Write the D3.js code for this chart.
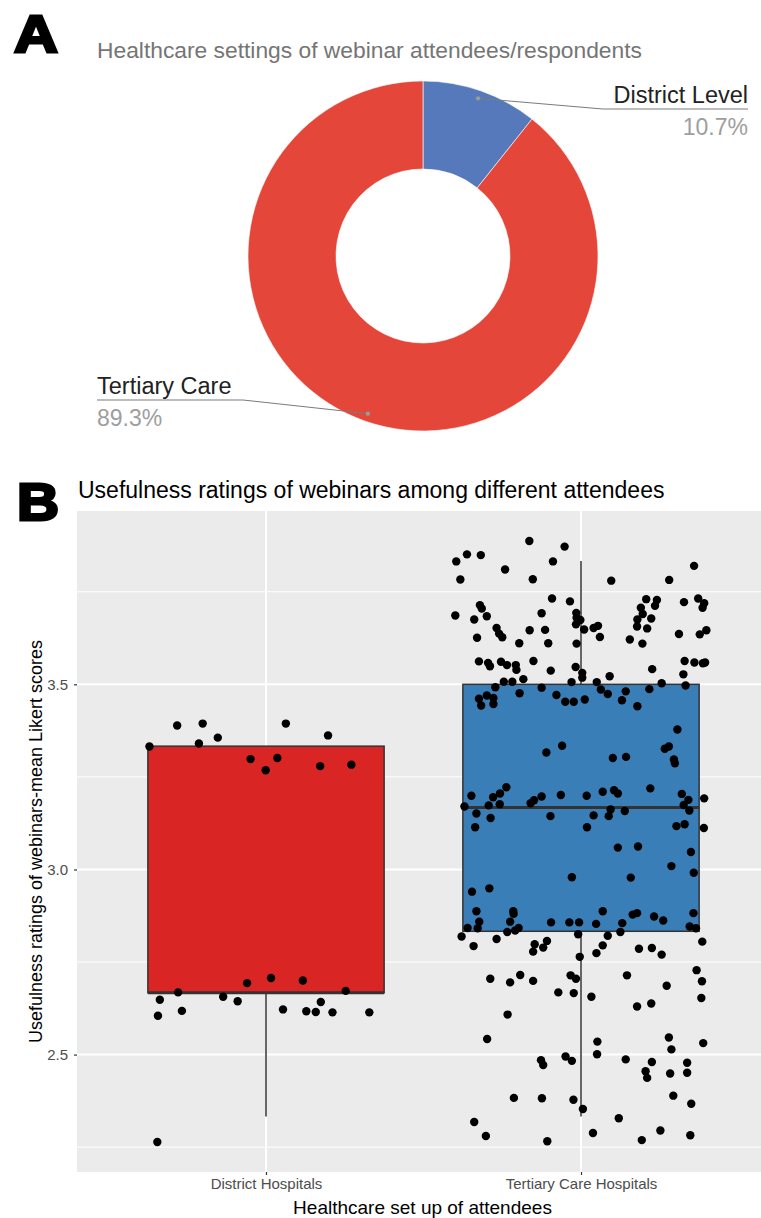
<!DOCTYPE html>
<html>
<head>
<meta charset="utf-8">
<script src="https://cdn.jsdelivr.net/npm/d3@7"></script>
<style>
  body { margin: 0; background: #fff; }
  svg { display: block; }
</style>
</head>
<body>
<script>
// ---- panel A data
var settings = ["District Level", "Tertiary Care"];
var settingShare = [10.7, 89.3];

// ---- panel B data
var groups = ["District Hospitals", "Tertiary Care Hospitals"];
var whiskerLow = [2.333, 2.333];
var q1 = [2.667, 2.833];
var median = [2.667, 3.167];
var q3 = [3.333, 3.5];
var whiskerHigh = [3.333, 3.833];
var yTicks = [2.5, 3.0, 3.5];
var yMinor = [2.25, 2.75, 3.25, 3.75];

// jittered respondents: [horizontal jitter (band units), mean Likert score]
var districtPts = [
  [-0.370,3.332],[-0.282,3.389],[-0.201,3.394],[-0.213,3.340],[-0.153,3.356],[-0.049,3.298],
  [-0.001,3.268],[0.036,3.301],[0.063,3.394],[0.197,3.362],[0.172,3.279],[0.271,3.283],
  [-0.337,2.648],[-0.343,2.605],[-0.279,2.668],[-0.267,2.618],[-0.136,2.656],[-0.090,2.644],
  [-0.060,2.693],[0.016,2.707],[0.054,2.622],[0.117,2.700],[0.128,2.617],[0.158,2.615],
  [0.174,2.642],[0.211,2.614],[0.253,2.672],[0.328,2.614],[-0.345,2.264]
];
var tertiaryPts = [
  [-0.164,3.887],[-0.052,3.872],[-0.362,3.851],[-0.318,3.849],[-0.396,3.832],[-0.089,3.832],
  [-0.241,3.810],[0.359,3.820],[-0.383,3.783],[-0.153,3.784],[0.096,3.780],[0.280,3.782],
  [-0.092,3.732],[-0.035,3.724],[0.207,3.730],[0.241,3.728],[0.327,3.722],[0.372,3.732],
  [-0.321,3.714],[-0.315,3.705],[0.190,3.707],[0.235,3.712],[0.391,3.719],[0.386,3.707],
  [-0.399,3.686],[-0.299,3.684],[-0.339,3.675],[-0.125,3.692],[-0.015,3.693],[-0.014,3.680],
  [-0.002,3.674],[0.196,3.690],[0.179,3.675],[0.223,3.678],[-0.016,3.662],[-0.268,3.652],
  [-0.260,3.637],[-0.250,3.627],[-0.163,3.646],[-0.114,3.647],[0.010,3.648],[0.040,3.652],
  [0.054,3.658],[0.060,3.628],[0.178,3.656],[0.210,3.651],[0.398,3.646],[0.377,3.635],
  [0.311,3.636],[-0.330,3.626],[-0.196,3.611],[-0.104,3.611],[-0.014,3.610],[0.155,3.621],
  [0.195,3.610],[-0.324,3.562],[-0.295,3.558],[-0.289,3.549],[-0.254,3.561],[-0.235,3.552],
  [-0.207,3.552],[-0.205,3.539],[-0.151,3.563],[-0.096,3.537],[-0.017,3.547],[0.004,3.531],
  [0.004,3.518],[0.091,3.522],[0.226,3.541],[0.329,3.563],[0.360,3.559],[0.387,3.557],
  [0.394,3.559],[0.325,3.527],[-0.245,3.507],[-0.218,3.507],[-0.183,3.514],[-0.030,3.506],
  [0.050,3.506],[0.256,3.503],[0.332,3.497],[-0.272,3.492],[-0.125,3.491],[0.063,3.486],
  [0.142,3.481],[0.217,3.487],[-0.324,3.461],[-0.299,3.470],[-0.278,3.463],[-0.317,3.443],
  [-0.278,3.447],[-0.195,3.476],[-0.078,3.471],[-0.050,3.453],[-0.023,3.453],[0.012,3.459],
  [0.085,3.474],[0.130,3.457],[0.179,3.441],[0.306,3.378],[-0.060,3.334],[-0.110,3.316],
  [0.266,3.326],[0.279,3.332],[0.101,3.301],[0.143,3.304],[0.295,3.297],[0.298,3.287],
  [-0.237,3.222],[-0.257,3.205],[-0.279,3.195],[-0.348,3.199],[-0.160,3.179],[-0.149,3.187],
  [-0.125,3.197],[-0.064,3.201],[0.018,3.199],[0.069,3.210],[0.105,3.214],[0.117,3.205],
  [0.220,3.219],[0.320,3.204],[0.341,3.188],[0.391,3.192],[-0.370,3.170],[-0.293,3.173],
  [-0.258,3.176],[0.326,3.174],[0.344,3.159],[-0.332,3.151],[-0.287,3.139],[-0.336,3.114],
  [-0.097,3.144],[0.094,3.162],[0.088,3.144],[0.040,3.146],[0.139,3.158],[0.019,3.114],
  [0.303,3.117],[0.329,3.122],[0.390,3.112],[0.117,3.059],[0.181,3.062],[0.349,3.047],
  [0.287,3.009],[0.358,2.991],[-0.029,2.979],[0.158,2.978],[-0.346,2.940],[-0.291,2.949],
  [-0.332,2.887],[-0.215,2.887],[-0.214,2.880],[0.069,2.887],[0.164,2.878],[0.178,2.882],
  [0.232,2.873],[0.261,2.862],[0.357,2.882],[-0.323,2.859],[-0.225,2.859],[-0.095,2.857],
  [-0.037,2.857],[-0.006,2.857],[0.048,2.853],[0.131,2.855],[-0.360,2.842],[-0.328,2.841],
  [-0.198,2.842],[-0.209,2.835],[-0.234,2.831],[0.125,2.831],[0.345,2.846],[0.365,2.841],
  [-0.379,2.819],[-0.268,2.812],[-0.009,2.825],[0.085,2.821],[-0.341,2.793],[-0.147,2.798],
  [-0.108,2.807],[-0.120,2.789],[-0.152,2.778],[0.069,2.795],[0.049,2.774],[0.184,2.786],
  [0.225,2.788],[0.256,2.770],[0.385,2.805],[-0.004,2.764],[-0.288,2.705],[-0.225,2.695],
  [-0.193,2.715],[-0.152,2.699],[-0.033,2.714],[-0.016,2.705],[0.146,2.714],[0.272,2.686],
  [0.367,2.728],[0.384,2.698],[-0.072,2.668],[-0.023,2.666],[0.033,2.656],[0.382,2.653],
  [0.178,2.630],[0.223,2.638],[-0.233,2.608],[-0.298,2.542],[0.052,2.535],[0.279,2.546],
  [0.287,2.514],[0.388,2.531],[-0.127,2.485],[-0.120,2.472],[-0.049,2.495],[-0.029,2.483],
  [0.051,2.501],[0.142,2.487],[0.225,2.480],[0.337,2.478],[0.205,2.455],[0.210,2.437],
  [0.283,2.449],[0.337,2.451],[-0.213,2.383],[-0.124,2.382],[-0.024,2.378],[0.293,2.389],
  [0.350,2.367],[0.006,2.353],[0.120,2.328],[-0.339,2.318],[-0.302,2.280],[-0.107,2.266],
  [0.038,2.288],[0.193,2.269],[0.252,2.295],[0.347,2.282]
];

var W = 761, H = 1218;
var svg = d3.select("body").append("svg")
  .attr("width", W)
  .attr("height", H)
  .style("font-family", "'Liberation Sans', Arial, sans-serif");

// big panel letters (heavy, a bit wide)
svg.append("text").attr("transform", "translate(14,52) scale(1.17,1)").text("A")
  .style("font-size", "52px").style("font-weight", "bold")
  .attr("stroke", "#000").attr("stroke-width", 2.8);
svg.append("text").attr("transform", "translate(17,520) scale(1.12,1)").text("B")
  .style("font-size", "52px").style("font-weight", "bold")
  .attr("stroke", "#000").attr("stroke-width", 2.8);

// ================= A: donut
svg.append("text").attr("x", 97).attr("y", 58)
  .text("Healthcare settings of webinar attendees/respondents")
  .style("font-size", "22.8px").attr("fill", "#757575");

var cx = 423, cy = 256, rOut = 175, rIn = 87;
var sliceColors = ["#5579BA", "#E4463A"];
var pie = d3.pie().sort(null).value(function(d) { return d; });
var arcs = pie(settingShare);
var arc = d3.arc().innerRadius(rIn).outerRadius(rOut);

var gA = svg.append("g").attr("transform", "translate(" + cx + "," + cy + ")");
gA.selectAll("path.slice").data(arcs).enter().append("path")
  .attr("class", "slice")
  .attr("d", arc)
  .attr("fill", function(d, i) { return sliceColors[i]; })
  .attr("stroke", "#fff").attr("stroke-width", 0.6);

// leader lines and labels
var dotArc = d3.arc().innerRadius(167).outerRadius(167);
var labelPos = [
  { elbow: [603 - cx, 109 - cy], end: [748 - cx, 109 - cy], anchor: "end" },
  { elbow: [243 - cx, 400 - cy], end: [97 - cx, 400 - cy], anchor: "start" }
];
arcs.forEach(function(a, i) {
  var p = dotArc.centroid(a);
  var lp = labelPos[i];
  gA.append("path")
    .attr("d", "M" + p + "L" + lp.elbow + "L" + lp.end)
    .attr("fill", "none").attr("stroke", "#7a7a7a").attr("stroke-width", 1);
  gA.append("circle").attr("cx", p[0]).attr("cy", p[1]).attr("r", 2.2).attr("fill", "#9a9a9a");
  gA.append("text").attr("x", lp.end[0]).attr("y", lp.end[1] - 6)
    .attr("text-anchor", lp.anchor).text(settings[i])
    .style("font-size", "23.5px").attr("fill", "#222");
  gA.append("text").attr("x", lp.end[0]).attr("y", lp.end[1] + 26)
    .attr("text-anchor", lp.anchor).text(d3.format(".1f")(settingShare[i]) + "%")
    .style("font-size", "23px").attr("fill", "#9e9e9e");
});

// ================= B: box + jitter
var pl = 77, pr = 770, pt = 511, pb = 1172;
svg.append("text").attr("x", 78).attr("y", 498)
  .text("Usefulness ratings of webinars among different attendees")
  .style("font-size", "23px").attr("fill", "#000");

var allVals = districtPts.concat(tertiaryPts).map(function(d) { return d[1]; });
var ext = d3.extent(allVals);
var pad = (ext[1] - ext[0]) * 0.05;
var y = d3.scaleLinear().domain([ext[0] - pad, ext[1] + pad]).range([pb, pt]);
var x = d3.scalePoint().domain(groups).range([pl, pr]).padding(0.6);
var step = x.step();

var clip = svg.append("clipPath").attr("id", "pclip");
clip.append("rect").attr("x", pl).attr("y", pt).attr("width", pr - pl).attr("height", pb - pt);

var gB = svg.append("g").attr("clip-path", "url(#pclip)");
gB.append("rect").attr("x", pl).attr("y", pt).attr("width", pr - pl).attr("height", pb - pt).attr("fill", "#EBEBEB");

gB.selectAll("line.minor").data(yMinor).enter().append("line")
  .attr("x1", pl).attr("x2", pr)
  .attr("y1", function(d) { return y(d); }).attr("y2", function(d) { return y(d); })
  .attr("stroke", "#fff").attr("stroke-width", 1);
gB.selectAll("line.major").data(yTicks).enter().append("line")
  .attr("x1", pl).attr("x2", pr)
  .attr("y1", function(d) { return y(d); }).attr("y2", function(d) { return y(d); })
  .attr("stroke", "#fff").attr("stroke-width", 2);
gB.selectAll("line.vmajor").data(groups).enter().append("line")
  .attr("y1", pt).attr("y2", pb)
  .attr("x1", function(d) { return x(d); }).attr("x2", function(d) { return x(d); })
  .attr("stroke", "#fff").attr("stroke-width", 2);

var boxFill = ["#D92624", "#3A7EB8"];
var halfW = step * 0.375;
groups.forEach(function(g, i) {
  var cxB = x(g);
  gB.append("line").attr("x1", cxB).attr("x2", cxB)
    .attr("y1", y(q3[i])).attr("y2", y(whiskerHigh[i]))
    .attr("stroke", "#333").attr("stroke-width", 1.5);
  gB.append("line").attr("x1", cxB).attr("x2", cxB)
    .attr("y1", y(q1[i])).attr("y2", y(whiskerLow[i]))
    .attr("stroke", "#333").attr("stroke-width", 1.5);
  gB.append("rect")
    .attr("x", cxB - halfW).attr("width", halfW * 2)
    .attr("y", y(q3[i])).attr("height", y(q1[i]) - y(q3[i]))
    .attr("fill", boxFill[i]).attr("stroke", "#333").attr("stroke-width", 1.5);
  gB.append("line").attr("x1", cxB - halfW).attr("x2", cxB + halfW)
    .attr("y1", y(median[i])).attr("y2", y(median[i]))
    .attr("stroke", "#333").attr("stroke-width", 3);
});

[districtPts, tertiaryPts].forEach(function(pts, i) {
  gB.selectAll("circle.p" + i).data(pts).enter().append("circle")
    .attr("class", "p" + i)
    .attr("cx", function(d) { return x(groups[i]) + d[0] * step; })
    .attr("cy", function(d) { return y(d[1]); })
    .attr("r", 4.2)
    .attr("fill", "#000");
});

// axes
var yAxis = svg.append("g").attr("transform", "translate(" + pl + ",0)")
  .call(d3.axisLeft(y).tickValues(yTicks).tickFormat(d3.format(".1f")).tickSize(3).tickPadding(6));
var xAxis = svg.append("g").attr("transform", "translate(0," + pb + ")")
  .call(d3.axisBottom(x).tickSize(3).tickPadding(3));
[yAxis, xAxis].forEach(function(ax) {
  ax.select(".domain").remove();
  ax.selectAll(".tick line").attr("stroke", "#333").attr("stroke-width", 1.2);
  ax.selectAll(".tick text").attr("fill", "#4d4d4d")
    .style("font-size", "15px").style("font-family", "'Liberation Sans', Arial, sans-serif");
});

svg.append("text").attr("x", (pl + pr) / 2 - 1).attr("y", 1214)
  .attr("text-anchor", "middle").text("Healthcare set up of attendees")
  .style("font-size", "19px").attr("fill", "#000");
svg.append("text")
  .attr("transform", "translate(42," + ((pt + pb) / 2) + ") rotate(-90)")
  .attr("text-anchor", "middle").text("Usefulness ratings of webinars-mean Likert scores")
  .style("font-size", "18px").attr("fill", "#000");
</script>
</body>
</html>
